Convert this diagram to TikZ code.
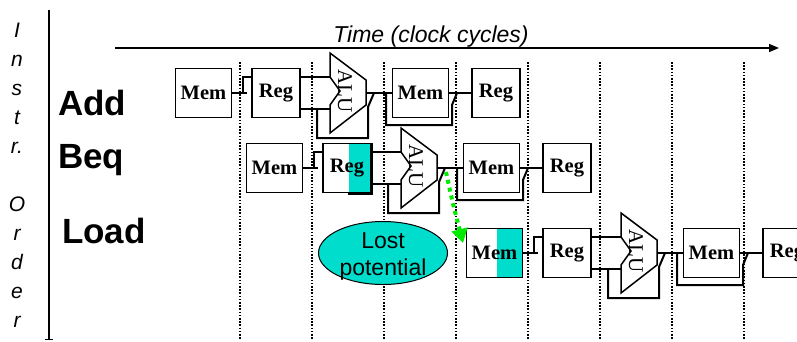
\documentclass[tikz,border=0pt]{standalone}
\usepackage{fontspec}
\setmainfont{Liberation Serif}
\newfontfamily\arialf{Liberation Sans}
\usetikzlibrary{arrows.meta,shapes.geometric}
\definecolor{turq}{RGB}{0,221,204}
\definecolor{brightgreen}{RGB}{0,235,0}
\tikzset{
  stagebox/.style={draw, line width=1.5pt, fill=white, minimum height=49pt, inner sep=0pt,
    font=\bfseries\fontsize{20.5}{20.5}\selectfont},
  membox/.style={stagebox, minimum width=56pt},
  regbox/.style={stagebox, minimum width=48pt},
  hlright/.style={path picture={\fill[turq] ([xshift=2pt]path picture bounding box.north) rectangle (path picture bounding box.south east);}},
  wire/.style={line width=2pt},
  aluline/.style={line width=1.5pt, fill=white, line join=miter},
  alutext/.style={rotate=-90, inner sep=0pt, font=\fontsize{21}{21}\selectfont},
  clockline/.style={line width=1.8pt, dash pattern=on 1.6pt off 1.6pt},
  rowlabel/.style={anchor=base west, inner sep=0pt, font=\arialf\bfseries\fontsize{35}{35}\selectfont},
  orderletter/.style={anchor=base, inner sep=0pt, font=\arialf\itshape\fontsize{21}{21}\selectfont},
  lostlbl/.style={anchor=base, inner sep=0pt, font=\arialf\fontsize{23}{23}\selectfont},
}
% #1 prefix, #2 left x of first Mem, #3 centre y of row
\newcommand\pipeline[3]{%
  % bypass loop under ALU
  \draw[wire] ({#2+142},{#3+16}) -- ({#2+142},{#3+45}) -- ({#2+193},{#3+45}) -- ({#2+193},{#3+14}) -- ({#2+199},{#3});
  % loop under second Mem
  \draw[wire] ({#2+211},{#3}) -- ({#2+211},{#3+32}) -- ({#2+277},{#3+32}) -- ({#2+277},{#3+12}) -- ({#2+282},{#3});
  \node[membox] (#1m1) at ({#2+28.5},{#3}) {};
  \node[regbox] (#1r1) at ({#2+101},{#3}) {};
  \node[membox] (#1m2) at ({#2+245.5},{#3}) {Mem};
  \node[regbox] (#1r2) at ({#2+321},{#3}) {Reg};
  % ALU
  \coordinate (#1aT) at ({#2+155},{#3-40});
  \coordinate (#1in1) at ({#2+155},{#3-16});
  \coordinate (#1in2) at ({#2+155},{#3+16});
  \coordinate (#1out) at ({#2+191},{#3});
  \draw[aluline] (#1aT) -- ++(36,27) -- ++(0,25) -- ++(-36,28) -- ++(0,-28) -- ++(10,-14) -- ++(-10,-14) -- cycle;
  \node[alutext] (#1alu) at ({#2+170},{#3-2}) {ALU};
  % wires
  \draw[wire] (#1m1.east) -- ({#2+72},{#3});
  \draw[wire] ({#2+68},{#3}) -- ({#2+68},{#3-16}) -- (#1r1.west |- {0,#3-16});
  \draw[wire] (#1r1.east |- #1in1) -- (#1in1);
  \draw[wire] (#1r1.east |- #1in2) -- (#1in2);
  \draw[wire] (#1out) -- (#1m2.west);
  \draw[wire] (#1m2.east) -- (#1r2.west);
}
\begin{document}
\begin{tikzpicture}[x=1pt,y=-1pt]
\useasboundingbox (0,0) rectangle (797,341);
\clip (0,0) rectangle (797,341);
\fill[white] (0,0) rectangle (797,341);

% clock-cycle boundaries
\foreach \i in {0,...,7} {
  \draw[clockline] ({240+72*\i},62) -- ({240+72*\i},339);
}

% time axis
\draw[line width=1.5pt, -{Triangle[length=10pt,width=8pt]}] (115,48) -- (779,48);
\node[anchor=base, inner sep=0pt, font=\arialf\itshape\fontsize{23}{23}\selectfont] (timelbl) at (431,42) {Time (clock cycles)};

% instruction-order axis
\draw[line width=2pt] (49,10) -- (49,339);
\draw[line width=1pt] (45,339) -- (53,339);
\node[orderletter] (o1) at (17,37) {I};
\node[orderletter] (o2) at (17,66) {n};
\node[orderletter] (o3) at (17,95) {s};
\node[orderletter] (o4) at (17,124) {t};
\node[orderletter] (o5) at (17,153) {r.};
\node[orderletter] (o6) at (17,211) {O};
\node[orderletter] (o7) at (17,240) {r};
\node[orderletter] (o8) at (17,269) {d};
\node[orderletter] (o9) at (17,298) {e};
\node[orderletter] (o10) at (17,327) {r};

\node[rowlabel] (addl) at (58,115) {Add};
\node[rowlabel] (beql) at (58,168) {Beq};
\node[rowlabel] (loadl) at (62,243) {Load};

% lost potential
\node[ellipse, draw, line width=1pt, fill=turq, minimum width=129pt, minimum height=63pt, inner sep=0pt] (lost) at (383,253) {};
\node[lostlbl] (lost1) at (383,248) {Lost};
\node[lostlbl] (lost2) at (383,275) {potential};

% pipelines
\pipeline{a}{175}{93}
\pipeline{b}{246}{168}
\pipeline{c}{466}{253}

% stage labels (with shaded halves)
\node[membox] (am1t) at (am1) {Mem};
\node[regbox] (ar1t) at (ar1) {Reg};
\node[membox] (bm1t) at (bm1) {Mem};
\node[regbox, hlright] (br1t) at (br1) {Reg};
\draw[line width=3pt] (br1t.north east) -- (br1t.south east) -- ([xshift=-24pt]br1t.south east);
\node[membox, hlright] (cm1t) at (cm1) {Mem};
\node[regbox] (cr1t) at (cr1) {Reg};

% branch outcome arrow
\coordinate (branch) at (446,172);
\coordinate (target) at (463,243);
\draw[brightgreen, line width=4pt, dash pattern=on 4pt off 4pt, -{Triangle[length=14pt,width=16pt]}] (branch) .. controls (452,200) .. (target);
\end{tikzpicture}
\end{document}
